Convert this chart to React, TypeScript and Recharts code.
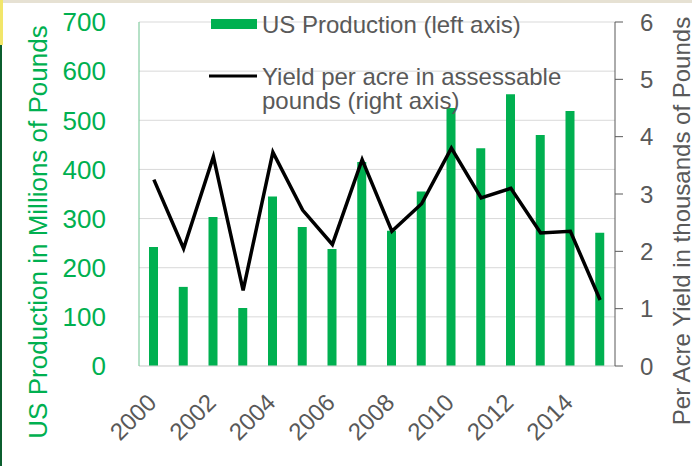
import {
  ComposedChart,
  Bar,
  Line,
  XAxis,
  YAxis,
  CartesianGrid,
  Legend,
} from "recharts";

const years = [
  "2000", "2001", "2002", "2003", "2004", "2005", "2006", "2007",
  "2008", "2009", "2010", "2011", "2012", "2013", "2014", "2015",
];
// US production, millions of pounds (left axis)
const production = [242, 161, 303, 118, 345, 283, 238, 415, 275, 355, 525, 443, 553, 470, 519, 271];
// yield per acre, thousands of pounds (right axis)
const yieldPerAcre = [3.25, 2.05, 3.65, 1.32, 3.73, 2.72, 2.12, 3.6, 2.35, 2.83, 3.8, 2.93, 3.1, 2.32, 2.35, 1.15];
const leftTicks = [0, 100, 200, 300, 400, 500, 600, 700];
const rightTicks = [0, 1, 2, 3, 4, 5, 6];

const data = years.map((year, i) => ({
  year,
  production: production[i],
  yield: yieldPerAcre[i],
}));

const GREEN = "#00B050";
const GREY = "#595959";
const FONT = "Arial, 'Liberation Sans', Helvetica, sans-serif";

function YearTick({ x, y, payload }: { x?: number; y?: number; payload?: { value: string } }) {
  return (
    <g transform={`translate(${(x ?? 0) + 4},${(y ?? 0) + 38})`}>
      <text
        x={0}
        y={0}
        textAnchor="end"
        transform="rotate(-45)"
        fill={GREY}
        fontSize={24}
        fontFamily={FONT}
      >
        {payload?.value}
      </text>
    </g>
  );
}

function LeftLabel() {
  return (
    <text
      x={47}
      y={232}
      textAnchor="middle"
      transform="rotate(-90, 47, 232)"
      fill={GREEN}
      fontSize={26}
      fontFamily={FONT}
    >
      US Production in Millions of Pounds
    </text>
  );
}

function RightLabel() {
  return (
    <text
      x={690}
      y={221}
      textAnchor="middle"
      transform="rotate(-90, 690, 221)"
      fill={GREY}
      fontSize={24}
      fontFamily={FONT}
    >
      Per Acre Yield in thousands of Pounds
    </text>
  );
}

function ChartLegend() {
  return (
    <svg width={370} height={115} style={{ display: "block", overflow: "visible" }}>
      <rect x={6} y={14} width={46} height={10} fill={GREEN} />
      <text x={57} y={28} fill={GREY} fontSize={24} fontFamily={FONT}>
        US Production (left axis)
      </text>
      <line x1={4} y1={71} x2={52} y2={71} stroke="#000" strokeWidth={3} />
      <text x={57} y={80} fill={GREY} fontSize={24} fontFamily={FONT}>
        Yield per acre in assessable
      </text>
      <text x={57} y={104} fill={GREY} fontSize={24} fontFamily={FONT}>
        pounds (right axis)
      </text>
    </svg>
  );
}

export default function App() {
  return (
    <div
      style={{
        position: "absolute",
        left: 0,
        top: 0,
        width: 692,
        height: 466,
        background: "#fff",
        overflow: "hidden",
      }}
    >
      <div style={{ position: "absolute", left: 0, top: 0, width: 692, height: 3, background: "#e6e1d3" }} />
      <div style={{ position: "absolute", left: 0, top: 0, width: 3, height: 45, background: "#f2e66a" }} />
      <div style={{ position: "absolute", left: 0, top: 45, width: 2, height: 421, background: "#0b5e2e" }} />
      <ComposedChart
        width={692}
        height={466}
        data={data}
        margin={{ top: 22, right: 0, bottom: 0, left: 0 }}
        barSize={9}
      >
        <CartesianGrid yAxisId="left" vertical={false} stroke="#d9d9d9" />
        <XAxis
          dataKey="year"
          height={100}
          interval={1}
          tickLine={false}
          tickSize={0}
          tickMargin={0}
          axisLine={{ stroke: "#d9d9d9" }}
          tick={<YearTick />}
        />
        <YAxis
          yAxisId="left"
          orientation="left"
          width={139}
          domain={[0, 700]}
          ticks={leftTicks}
          tickLine={false}
          tickSize={0}
          tickMargin={33}
          axisLine={{ stroke: "#6cc38f" }}
          tick={{ fill: GREEN, fontSize: 26, fontFamily: FONT }}
          label={LeftLabel}
        />
        <YAxis
          yAxisId="right"
          orientation="right"
          width={77}
          domain={[0, 6]}
          ticks={rightTicks}
          tickSize={8}
          tickMargin={17}
          stroke={GREY}
          axisLine={{ stroke: GREY }}
          tickLine={{ stroke: GREY }}
          tick={{ fill: GREY, fontSize: 24, fontFamily: FONT }}
          label={RightLabel}
        />
        <Legend
          layout="vertical"
          align="center"
          verticalAlign="middle"
          content={<ChartLegend />}
          wrapperStyle={{ left: 205, top: 5, width: 370, height: 115 }}
        />
        <Bar yAxisId="left" dataKey="production" fill={GREEN} isAnimationActive={false} />
        <Line
          yAxisId="right"
          dataKey="yield"
          stroke="#000"
          strokeWidth={3.5}
          dot={false}
          activeDot={false}
          type="linear"
          isAnimationActive={false}
        />
      </ComposedChart>
    </div>
  );
}
